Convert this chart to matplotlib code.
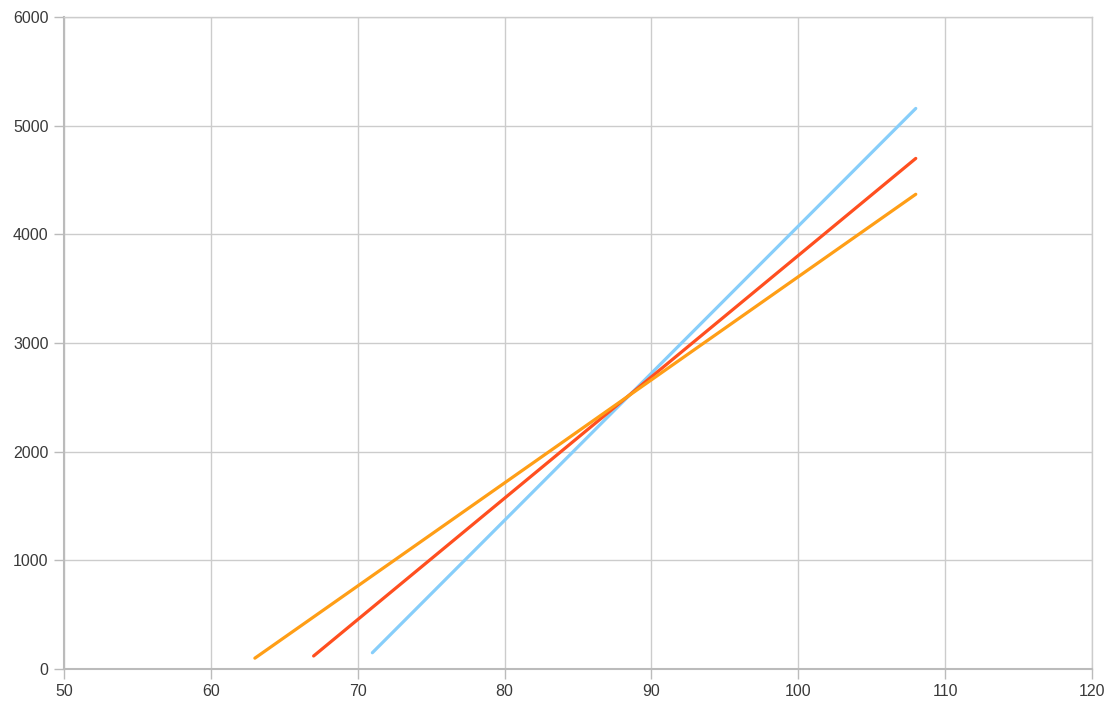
import matplotlib
matplotlib.use("Agg")
import matplotlib.pyplot as plt

# line end points
orange_x = [63, 108]
orange_y = [100, 4370]
red_x = [67, 108]
red_y = [120, 4700]
blue_x = [71, 108]
blue_y = [150, 5160]

x_ticks = [50, 60, 70, 80, 90, 100, 110, 120]
y_ticks = [0, 1000, 2000, 3000, 4000, 5000, 6000]

plt.rcParams['font.family'] = ['Liberation Sans', 'DejaVu Sans']

fig = plt.figure(figsize=(11.16, 7.16), dpi=100)
ax = fig.add_axes([0.0573, 0.0656, 0.9212, 0.9104])

ax.plot(blue_x, blue_y, color='#87CEFA', lw=2.3, solid_capstyle='round')
ax.plot(red_x, red_y, color='#FF4F1F', lw=2.3, solid_capstyle='round')
ax.plot(orange_x, orange_y, color='#FF9E16', lw=2.3, solid_capstyle='round')

ax.set_xlim(50, 120)
ax.set_ylim(0, 6000)
ax.set_xticks(x_ticks)
ax.set_yticks(y_ticks)
ax.grid(True, color='#CCCCCC', lw=1)
ax.set_axisbelow(True)

for side in ['top', 'right']:
    ax.spines[side].set_color('#CCCCCC')
    ax.spines[side].set_linewidth(1)
for side in ['left', 'bottom']:
    ax.spines[side].set_color('#BBBBBB')
    ax.spines[side].set_linewidth(1.5)

ax.tick_params(axis='both', length=7, width=1, color='#BBBBBB',
               labelsize=11.5, labelcolor='#3A3A3A', pad=4)

fig.savefig('out.png', dpi=100)
